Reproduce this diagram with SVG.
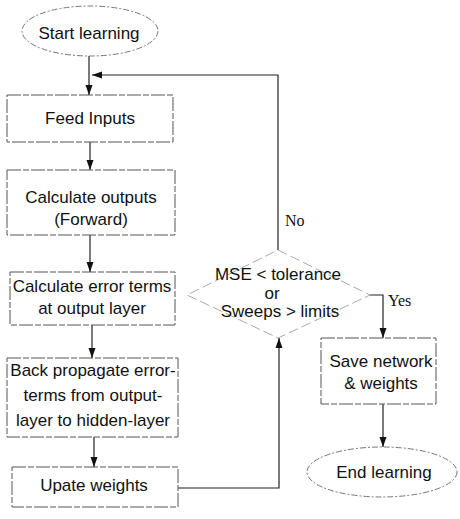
<svg xmlns="http://www.w3.org/2000/svg" width="460" height="519" viewBox="0 0 460 519">
<defs>
<marker id="ah" viewBox="0 0 10 10" refX="10" refY="5" markerWidth="10" markerHeight="10" markerUnits="userSpaceOnUse" orient="auto">
<path d="M0,1.5 L10,5 L0,8.5 Z" fill="#111"/>
</marker>
<style>
.box{fill:#fff;stroke:#555;stroke-width:1;stroke-dasharray:14 2 6 2}
.oval{fill:#fff;stroke:#777;stroke-width:1;stroke-dasharray:6 2 2 2}
.dia{fill:none;stroke:#aaa;stroke-width:1;stroke-dasharray:10 4}
.t{font-family:"Liberation Sans",Arial,sans-serif;font-size:17px;fill:#111;text-anchor:middle}
.s{font-family:"Liberation Serif","Times New Roman",serif;font-size:16px;fill:#111}
.c{fill:none;stroke:#222;stroke-width:1.2}
</style>
</defs>
<rect width="460" height="519" fill="#fff"/>
<g id="connectors">
<path class="c" d="M89,56 V95" marker-end="url(#ah)"/>
<path class="c" d="M278,250 V75 H92" marker-end="url(#ah)"/>
<path class="c" d="M90,142 V170" marker-end="url(#ah)"/>
<path class="c" d="M90,235 V272" marker-end="url(#ah)"/>
<path class="c" d="M92,325 V358" marker-end="url(#ah)"/>
<path class="c" d="M94,437 V467" marker-end="url(#ah)"/>
<path class="c" d="M178,488 H279 V338" marker-end="url(#ah)"/>
<path class="c" d="M370,295 H383 V338" marker-end="url(#ah)"/>
<path class="c" d="M383,404 V447" marker-end="url(#ah)"/>
<text class="s" x="285" y="226">No</text>
<text class="s" x="388" y="306">Yes</text>
</g>
<g id="start">
<ellipse class="oval" cx="90" cy="31" rx="68" ry="25"/>
<text class="t" x="89" y="39">Start learning</text>
</g>
<g id="feed">
<rect class="box" x="7" y="95" width="166" height="47"/>
<text class="t" x="90" y="124">Feed Inputs</text>
</g>
<g id="calcout">
<rect class="box" x="7" y="170" width="168" height="65"/>
<text class="t" x="91" y="203">Calculate outputs</text>
<text class="t" x="91" y="225">(Forward)</text>
</g>
<g id="calcerr">
<rect class="box" x="10" y="272" width="165" height="53"/>
<text class="t" x="92" y="292">Calculate error terms</text>
<text class="t" x="92" y="314">at output layer</text>
</g>
<g id="backprop">
<rect class="box" x="7" y="358" width="171" height="79"/>
<text class="t" x="93" y="376">Back propagate error-</text>
<text class="t" x="93" y="401">terms from output-</text>
<text class="t" x="93" y="426">layer to hidden-layer</text>
</g>
<g id="update">
<rect class="box" x="12" y="467" width="166" height="40"/>
<text class="t" x="94" y="491">Upate weights</text>
</g>
<g id="decision">
<polygon class="dia" points="278,250 370,295 278,338 187,295"/>
<text class="t" x="278" y="280">MSE &lt; tolerance</text>
<text class="t" x="272" y="299">or</text>
<text class="t" x="280" y="317">Sweeps &gt; limits</text>
</g>
<g id="save">
<rect class="box" x="321" y="338" width="115" height="66"/>
<text class="t" x="381" y="367">Save network</text>
<text class="t" x="381" y="389">&amp; weights</text>
</g>
<g id="end">
<ellipse class="oval" cx="382" cy="472" rx="75" ry="25"/>
<text class="t" x="384" y="478">End learning</text>
</g>
</svg>
